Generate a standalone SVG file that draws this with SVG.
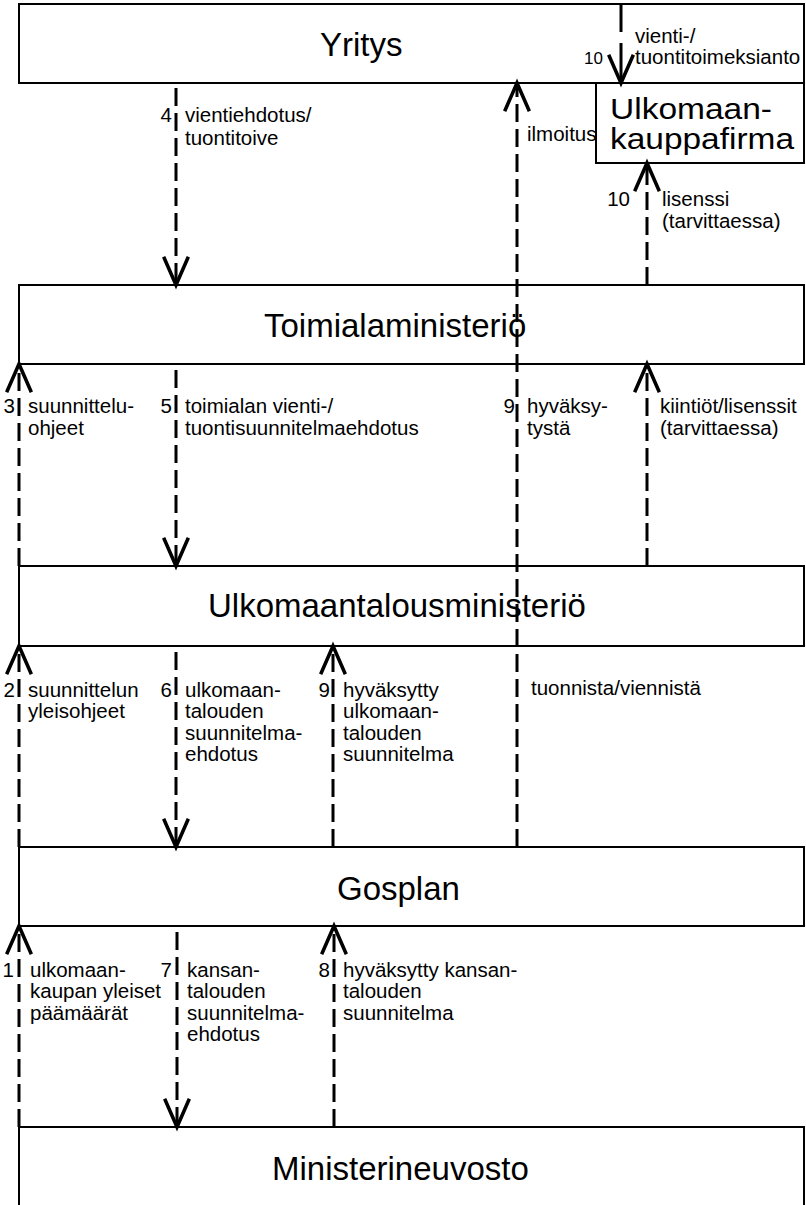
<svg xmlns="http://www.w3.org/2000/svg" width="806" height="1205" viewBox="0 0 806 1205">
<style>
.box{fill:#fff;stroke:#000;stroke-width:2}
.t{font-family:"Liberation Sans",Arial,sans-serif;font-size:33px;fill:#000}
.l{font-family:"Liberation Sans",Arial,sans-serif;font-size:20.5px;fill:#000}
.n{font-family:"Liberation Sans",Arial,sans-serif;font-size:20.5px;fill:#000;text-anchor:end}
.c{fill:none;stroke:#000;stroke-width:3;stroke-dasharray:18 7;marker-end:url(#arr)}
.s{fill:none;stroke:#000;stroke-width:3}
</style>
<defs>
<marker id="arr" markerUnits="userSpaceOnUse" markerWidth="40" markerHeight="40" viewBox="-30 -15 34 30" refX="0" refY="0" orient="auto">
<path d="M-24 -10.5 L0 0 L-24 10.5" fill="none" stroke="#000" stroke-width="3" stroke-dasharray="none"/>
</marker>
</defs>
<rect width="806" height="1205" fill="#fff"/>
<g id="yritys">
<rect class="box" x="19" y="4" width="785" height="79"/>
<text class="t" x="320" y="56">Yritys</text>
</g>
<g id="ulkomaankauppafirma">
<rect class="box" x="596" y="83" width="208" height="80"/>
<text class="t" x="610" y="119" style="font-size:30px" textLength="162" lengthAdjust="spacingAndGlyphs">Ulkomaan-</text>
<text class="t" x="610" y="149" style="font-size:30px" textLength="184" lengthAdjust="spacingAndGlyphs">kauppafirma</text>
</g>
<g id="toimialaministerio">
<rect class="box" x="19" y="285" width="785" height="79"/>
<text class="t" x="264" y="337">Toimialaministeriö</text>
</g>
<g id="ulkomaantalousministerio">
<rect class="box" x="19" y="566" width="785" height="80"/>
<text class="t" x="208" y="617">Ulkomaantalousministeriö</text>
</g>
<g id="gosplan">
<rect class="box" x="19" y="847" width="785" height="79"/>
<text class="t" x="337" y="900">Gosplan</text>
</g>
<g id="ministerineuvosto">
<rect x="19" y="1127" width="785" height="90" fill="#fff"/>
<path d="M19 1205 V1127 H804 V1205" fill="none" stroke="#000" stroke-width="2"/>
<text class="t" x="272" y="1180">Ministerineuvosto</text>
</g>
<g id="connectors">
<path class="c" d="M176 88 V285"/>
<path class="s" d="M621 5 V32"/>
<path class="s" d="M621 43 V83" style="marker-end:url(#arr)"/>
<path class="c" d="M517 847 V83"/>
<path class="c" d="M647 285 V163"/>
<path class="c" d="M647 566 V364"/>
<path class="c" d="M19 566 V364"/>
<path class="c" d="M176 370 V566"/>
<path class="c" d="M19 847 V646"/>
<path class="c" d="M176 652 V847"/>
<path class="c" d="M333 847 V646"/>
<path class="c" d="M19 1127 V926"/>
<path class="c" d="M177 932 V1127"/>
<path class="c" d="M334 1127 V926"/>
</g>
<g id="labels">
<text class="n" x="172" y="122">4</text>
<text class="l" x="185" y="122">vientiehdotus/</text>
<text class="l" x="185" y="145">tuontitoive</text>
<text class="n" x="603" y="64" style="font-size:17px">10</text>
<text class="l" x="635" y="43">vienti-/</text>
<text class="l" x="635" y="64">tuontitoimeksianto</text>
<text class="l" x="527" y="141">ilmoitus</text>
<text class="n" x="630" y="206">10</text>
<text class="l" x="662" y="206">lisenssi</text>
<text class="l" x="662" y="228">(tarvittaessa)</text>
<text class="n" x="15" y="413">3</text>
<text class="l" x="28" y="413">suunnittelu-</text>
<text class="l" x="28" y="435">ohjeet</text>
<text class="n" x="172" y="413">5</text>
<text class="l" x="185" y="413">toimialan vienti-/</text>
<text class="l" x="185" y="435">tuontisuunnitelmaehdotus</text>
<text class="n" x="515" y="413">9</text>
<text class="l" x="527" y="413">hyväksy-</text>
<text class="l" x="527" y="435">tystä</text>
<text class="l" x="660" y="413">kiintiöt/lisenssit</text>
<text class="l" x="660" y="435">(tarvittaessa)</text>
<text class="n" x="15" y="697">2</text>
<text class="l" x="28" y="697">suunnittelun</text>
<text class="l" x="28" y="718">yleisohjeet</text>
<text class="n" x="172" y="697">6</text>
<text class="l" x="185" y="697">ulkomaan-</text>
<text class="l" x="185" y="718">talouden</text>
<text class="l" x="185" y="740">suunnitelma-</text>
<text class="l" x="185" y="761">ehdotus</text>
<text class="n" x="330" y="697">9</text>
<text class="l" x="343" y="697">hyväksytty</text>
<text class="l" x="343" y="718">ulkomaan-</text>
<text class="l" x="343" y="740">talouden</text>
<text class="l" x="343" y="761">suunnitelma</text>
<text class="l" x="531" y="695">tuonnista/viennistä</text>
<text class="n" x="14" y="977">1</text>
<text class="l" x="30" y="977">ulkomaan-</text>
<text class="l" x="30" y="998">kaupan yleiset</text>
<text class="l" x="30" y="1020">päämäärät</text>
<text class="n" x="172" y="977">7</text>
<text class="l" x="187" y="977">kansan-</text>
<text class="l" x="187" y="998">talouden</text>
<text class="l" x="187" y="1020">suunnitelma-</text>
<text class="l" x="187" y="1041">ehdotus</text>
<text class="n" x="330" y="977">8</text>
<text class="l" x="343" y="977">hyväksytty kansan-</text>
<text class="l" x="343" y="998">talouden</text>
<text class="l" x="343" y="1020">suunnitelma</text>
</g>
</svg>
